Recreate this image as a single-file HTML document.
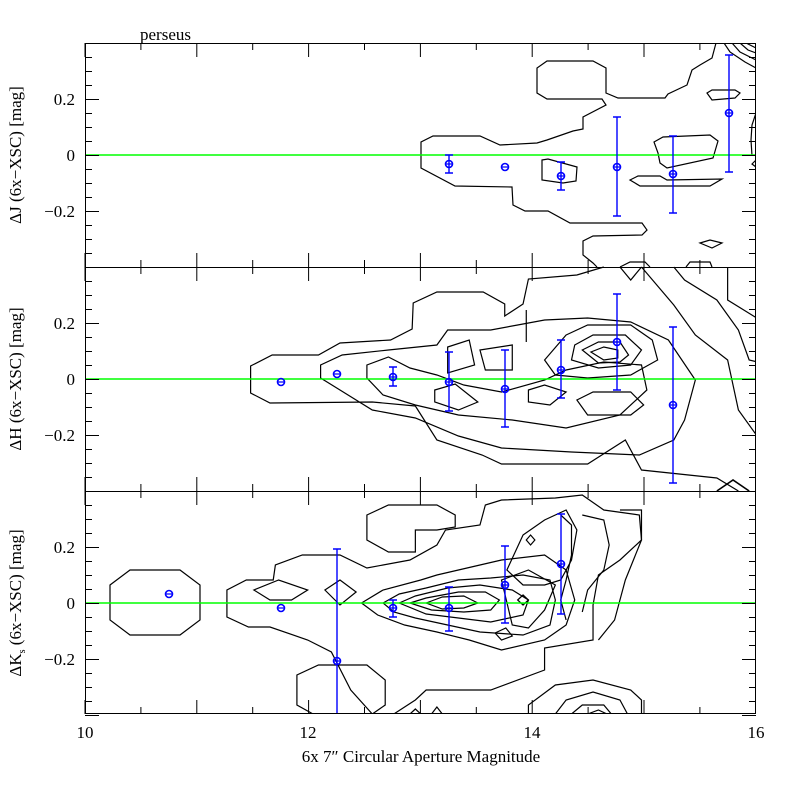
<!DOCTYPE html><html><head><style>body{margin:0;background:#fff}svg{display:block}text{font-family:"Liberation Serif",serif;font-size:17px}</style></head><body>
<svg width="800" height="800" viewBox="0 0 800 800" xmlns="http://www.w3.org/2000/svg">
<rect width="800" height="800" fill="#fff"/>
<defs>
<clipPath id="cp"><rect x="85" y="43" width="671" height="671"/></clipPath>
<g id="xt" stroke="#000" stroke-width="1">
<path d="M85,0v-14M140.9,0v-7M196.8,0v-14M252.7,0v-7M308.6,0v-14M364.5,0v-7M420.4,0v-14M476.3,0v-7M532.2,0v-14M588.1,0v-7M644,0v-14M699.9,0v-7"/>
</g>
<g id="yt" stroke="#000">
<path d="M85,-0.5h14M85,13.5h7M85,27.5h7M85,41.5h7M85,55.5h14M85,69.5h7M85,83.5h7M85,97.5h7M85,111.5h14M85,125.5h7M85,139.5h7M85,153.5h7M85,167.5h14M85,181.5h7M85,195.5h7M85,209.5h7M85,223.5h14"/>
<path d="M756,-0.5h-14M756,13.5h-7M756,27.5h-7M756,41.5h-7M756,55.5h-14M756,69.5h-7M756,83.5h-7M756,97.5h-7M756,111.5h-14M756,125.5h-7M756,139.5h-7M756,153.5h-7M756,167.5h-14M756,181.5h-7M756,195.5h-7M756,209.5h-7M756,223.5h-14"/>
</g>
</defs>
<g clip-path="url(#cp)">
<g fill="none" stroke="#000" stroke-width="1.2">
<path d="M716,43 L712,58 L700,65 L692,70 L687,85 L668,94 L665,98 L618,98 L606,93 L606,68 L593,61 L547,61 L537,68 L537,93 L547,99 L602,99 L606,105 L583,117 L583,129 L573,131 L547,140 L537,143 L500,145 L480,136 L433,136 L421,142 L421,168 L455,186 L512,187 L513,205 L525,211 L548,211 L570,223 L642,223 L647,230 L642,235 L593,236 L583,241 L583,255 L593,263 L597,267"/>
<path d="M542,160 L548,159 L577,167 L576,181 L563,183 L542,180 Z"/>
<path d="M654,142 L663,137 L710,135 L718,141 L713,158 L667,168 L660,163 L658,153 Z"/>
<path d="M630,180 L638,176 L660,176 L667,180 L722,179 L710,186 L640,186 Z"/>
<path d="M707,93 L712,90 L735,90 L740,93 L735,98 L712,100 Z"/>
<path d="M700,243 L710,240 L722,243 L712,248 Z"/>
<path d="M756,113 L752,125 L751,140 L752,156"/>
<path d="M724,43 L730,52 L745,62 L756,68 M732,43 L740,52 L756,60 M740,43 L748,50 L756,53 M746,43 L756,48"/>
<path d="M620,267 L630,262 L645,262 L650,267 M686,267 L690,262 L710,262 L712,267"/>
<path d="M756,160 L752,164 L756,167"/>
</g>
<g fill="none" stroke="#000" stroke-width="1.2" transform="translate(200,0) scale(1.0768,1) translate(-200,0)">
<path d="M575,267 L550,275 L505,279 L500,304 L483,316 L483,304 L463,292 L420,292 L398,303 L397,329 L377,340 L330,343 L310,355 L267,355 L247,366 L247,393 L265,403 L360,402 L400,406 L420,440 L462,455 L480,464 L560,464 L595,440 L610,470 L680,478 L700,491" vector-effect="non-scaling-stroke"/>
<path d="M610,267 L640,305 L660,335 L690,360 L700,410 L720,440 L736,450 L740,470 L720,475 L730,491" vector-effect="non-scaling-stroke"/>
<path d="M312,378 L312,365 L332,355 L375,350 L420,345 L430,330 L470,330 L495,325 L520,320 L560,318 L600,322 L635,340 L660,380 L650,420 L640,440 L608,455 L545,452 L480,448 L440,436 L400,418 L360,410 L330,390 Z" vector-effect="non-scaling-stroke"/>
<path d="M355,378 L355,365 L375,357 L395,368 L420,375 L445,385 L480,392 L520,380 L540,370 L575,362 L610,365 L615,390 L590,415 L540,428 L490,420 L440,415 L400,405 L370,395 Z" vector-effect="non-scaling-stroke"/>
<path d="M430,347 L450,340 L455,365 L430,373 Z" vector-effect="non-scaling-stroke"/>
<path d="M460,350 L490,345 L490,370 L465,370 Z" vector-effect="non-scaling-stroke"/>
<path d="M418,390 L437,384 L458,402 L440,410 L418,402 Z" vector-effect="non-scaling-stroke"/>
<path d="M540,335 L560,325 L600,325 L620,340 L625,360 L600,375 L560,378 L530,375 L520,360 Z" vector-effect="non-scaling-stroke"/>
<path d="M548,345 L565,335 L595,335 L610,350 L600,365 L570,368 L545,360 Z" vector-effect="non-scaling-stroke"/>
<path d="M555,350 L570,342 L590,342 L598,355 L590,362 L570,363 Z" vector-effect="non-scaling-stroke"/>
<path d="M563,352 L575,347 L588,350 L588,358 L575,360 Z" vector-effect="non-scaling-stroke"/>
<path d="M550,400 L565,392 L600,392 L612,405 L600,415 L560,415 Z" vector-effect="non-scaling-stroke"/>
<path d="M505,390 L520,385 L540,392 L525,405 L505,402 Z" vector-effect="non-scaling-stroke"/>
<path d="M503,310 L503,342" vector-effect="non-scaling-stroke"/>
<path d="M640,267 L650,280 L680,300 L700,330 L710,360 L730,365 M690,267 L690,300 L720,320 L740,345 L752,360" vector-effect="non-scaling-stroke"/>
<path d="M590,267 L600,280 L610,267" vector-effect="non-scaling-stroke"/>
<path d="M680,491 L695,480 L710,491 M725,491 L735,480 L750,491" stroke-width="1.6" vector-effect="non-scaling-stroke"/>
<path d="M360,714 L340,690 L322,652 L300,640 L265,627 L245,627 L225,617 L225,590 L243,580 L268,580 L270,565 L295,555 L330,555 L355,568 L395,560 L420,545 L428,530 L460,525 L465,505 L480,500 L530,498 L555,495 L575,510 L608,515 L610,540 L590,560 L570,575 L565,605 L565,640 L520,648 L520,670 L470,690 L410,690 L400,700 L380,714" vector-effect="non-scaling-stroke"/>
<path d="M355,515 L375,505 L420,505 L437,515 L437,527 L420,530 L400,530 L400,552 L375,552 L355,540 Z" vector-effect="non-scaling-stroke"/>
<path d="M305,714 L290,705 L290,675 L310,665 L355,665 L372,680 L372,705 L360,714" vector-effect="non-scaling-stroke"/>
<path d="M250,590 L273,580 L300,590 L285,600 L265,600 Z" vector-effect="non-scaling-stroke"/>
<path d="M316,590 L330,580 L345,592 L330,605 Z" vector-effect="non-scaling-stroke"/>
<path d="M350,603 L370,590 L405,580 L420,575 L460,565 L480,560 L520,555 L540,570 L548,600 L540,625 L520,640 L480,650 L450,640 L420,632 L390,625 L365,615 Z" vector-effect="non-scaling-stroke"/>
<path d="M370,603 L385,594 L410,588 L440,580 L470,578 L500,575 L525,580 L530,600 L525,625 L500,635 L460,632 L430,625 L400,618 L380,612 Z" vector-effect="non-scaling-stroke"/>
<path d="M385,603 L400,596 L430,588 L460,585 L490,590 L505,600 L500,615 L470,622 L440,618 L410,614 Z" vector-effect="non-scaling-stroke"/>
<path d="M395,603 L410,598 L440,592 L465,592 L478,600 L470,610 L445,612 L415,610 Z" vector-effect="non-scaling-stroke"/>
<path d="M410,603 L425,597 L445,596 L458,603 L445,608 L425,609 Z" vector-effect="non-scaling-stroke"/>
<path d="M480,580 L505,570 L530,585 L520,610 L505,628 L490,625 Z" vector-effect="non-scaling-stroke"/>
<path d="M500,535 L520,520 L540,510 L550,530 L545,560 L535,580 L520,585 L500,585 L485,570 Z" vector-effect="non-scaling-stroke"/>
<path d="M503,540 L507,535 L511,540 L507,545 Z" vector-effect="non-scaling-stroke"/>
<path d="M495,600 L500,595 L505,600 L500,605 Z" vector-effect="non-scaling-stroke"/>
<path d="M474,633 L484,628 L490,636 L480,640 Z" vector-effect="non-scaling-stroke"/>
<path d="M535,515 L545,525 L545,555 L540,580 L535,600 L540,620 M555,515 L575,520 L580,545 L575,570 L560,590 L555,612" vector-effect="non-scaling-stroke"/>
<path d="M590,510 L610,510 L610,540 L595,580 L585,620 L570,640" vector-effect="non-scaling-stroke"/>
<path d="M505,714 L505,705 L530,685 L565,680 L600,690 L610,700 L610,714 M530,714 L540,700 L565,692 L590,700 L597,714 M545,714 L555,705 L575,705 L582,714 M560,714 L570,710 L578,714" vector-effect="non-scaling-stroke"/>
<path d="M415,714 L420,707 L425,714 M395,714 L400,709 L405,714" vector-effect="non-scaling-stroke"/>
</g>
<path d="M110,585 L130,570 L180,570 L200,585 L200,620 L180,635 L130,635 L110,620 Z" fill="none" stroke="#000" stroke-width="1.2"/>
</g>
<line x1="85" y1="155" x2="756" y2="155" stroke="#00ff00" stroke-width="1.5"/>
<line x1="85" y1="379" x2="756" y2="379" stroke="#00ff00" stroke-width="1.5"/>
<line x1="85" y1="603" x2="756" y2="603" stroke="#00ff00" stroke-width="1.5"/>
<g stroke="#0000ff" fill="none" stroke-width="1.4">
<path d="M449,155V173M445,155h8M445,173h8 M561,162V190M557,162h8M557,190h8 M617,117V216M613,117h8M613,216h8 M673,136V213M669,136h8M669,213h8 M729,55V172M725,55h8M725,172h8"/>
<path d="M393,367V386M389,367h8M389,386h8 M449,352V411M445,352h8M445,411h8 M505,350V427M501,350h8M501,427h8 M561,340V398M557,340h8M557,398h8 M617,294V390M613,294h8M613,390h8 M673,327V483M669,327h8M669,483h8"/>
<path d="M337,549V714M333,549h8 M393,600V617M389,600h8M389,617h8 M449,587V631M445,587h8M445,631h8 M505,546V623M501,546h8M501,623h8 M561,514V614M557,514h8M557,614h8"/>
</g>
<g stroke="#0000ff" fill="none" stroke-width="1.6">
<circle cx="449" cy="164" r="3.5"/><circle cx="505" cy="167" r="3.5"/><circle cx="561" cy="176" r="3.5"/><circle cx="617" cy="167" r="3.5"/><circle cx="673" cy="174" r="3.5"/><circle cx="729" cy="113" r="3.5"/>
<circle cx="281" cy="382" r="3.5"/><circle cx="337" cy="374" r="3.5"/><circle cx="393" cy="377" r="3.5"/><circle cx="449" cy="382" r="3.5"/><circle cx="505" cy="389" r="3.5"/><circle cx="561" cy="370" r="3.5"/><circle cx="617" cy="342" r="3.5"/><circle cx="673" cy="405" r="3.5"/>
<circle cx="169" cy="594" r="3.5"/><circle cx="281" cy="608" r="3.5"/><circle cx="337" cy="661" r="3.5"/><circle cx="393" cy="608" r="3.5"/><circle cx="449" cy="608" r="3.5"/><circle cx="505" cy="585" r="3.5"/><circle cx="561" cy="564" r="3.5"/>
</g>
<g stroke="#0000ff" stroke-width="1.2">
<path d="M445,164h8M501,167h8M557,176h8M613,167h8M669,174h8M725,113h8 M277,382h8M333,374h8M389,377h8M445,382h8M501,389h8M557,370h8M613,342h8M669,405h8 M165,594h8M277,608h8M333,661h8M389,608h8M445,608h8M501,585h8M557,564h8"/>
</g>
<g fill="none" stroke="#000" stroke-width="1">
<rect x="85.5" y="43.5" width="670" height="670"/>
<line x1="85" y1="267.5" x2="756" y2="267.5"/>
<line x1="85" y1="491.5" x2="756" y2="491.5"/>
</g>
<use href="#xt" transform="translate(0,714)"/>
<use href="#xt" transform="translate(0,491)"/>
<use href="#xt" transform="translate(0,267)"/>
<use href="#xt" transform="translate(0,43) scale(1,-1)"/>
<use href="#xt" transform="translate(0,491) scale(1,-1)"/>
<use href="#xt" transform="translate(0,267) scale(1,-1)"/>
<use href="#yt" transform="translate(0,44)"/>
<use href="#yt" transform="translate(0,268)"/>
<use href="#yt" transform="translate(0,492)"/>
<g text-anchor="end">
<text x="75" y="105">0.2</text><text x="75" y="161">0</text><text x="75" y="217">−0.2</text>
<text x="75" y="329">0.2</text><text x="75" y="385">0</text><text x="75" y="441">−0.2</text>
<text x="75" y="553">0.2</text><text x="75" y="609">0</text><text x="75" y="665">−0.2</text>
</g>
<g text-anchor="middle">
<text x="85" y="738">10</text><text x="308" y="738">12</text><text x="532" y="738">14</text><text x="756" y="738">16</text>
<text x="421" y="762">6x 7″ Circular Aperture Magnitude</text>
</g>
<text x="140" y="40">perseus</text>
<text transform="translate(21,155) rotate(-90)" text-anchor="middle">ΔJ (6x−XSC) [mag]</text>
<text transform="translate(21,379) rotate(-90)" text-anchor="middle">ΔH (6x−XSC) [mag]</text>
<text transform="translate(21,603) rotate(-90)" text-anchor="middle">ΔK<tspan font-size="10" dy="4">s</tspan><tspan dy="-4"> (6x−XSC) [mag]</tspan></text>
</svg>
</body></html>
